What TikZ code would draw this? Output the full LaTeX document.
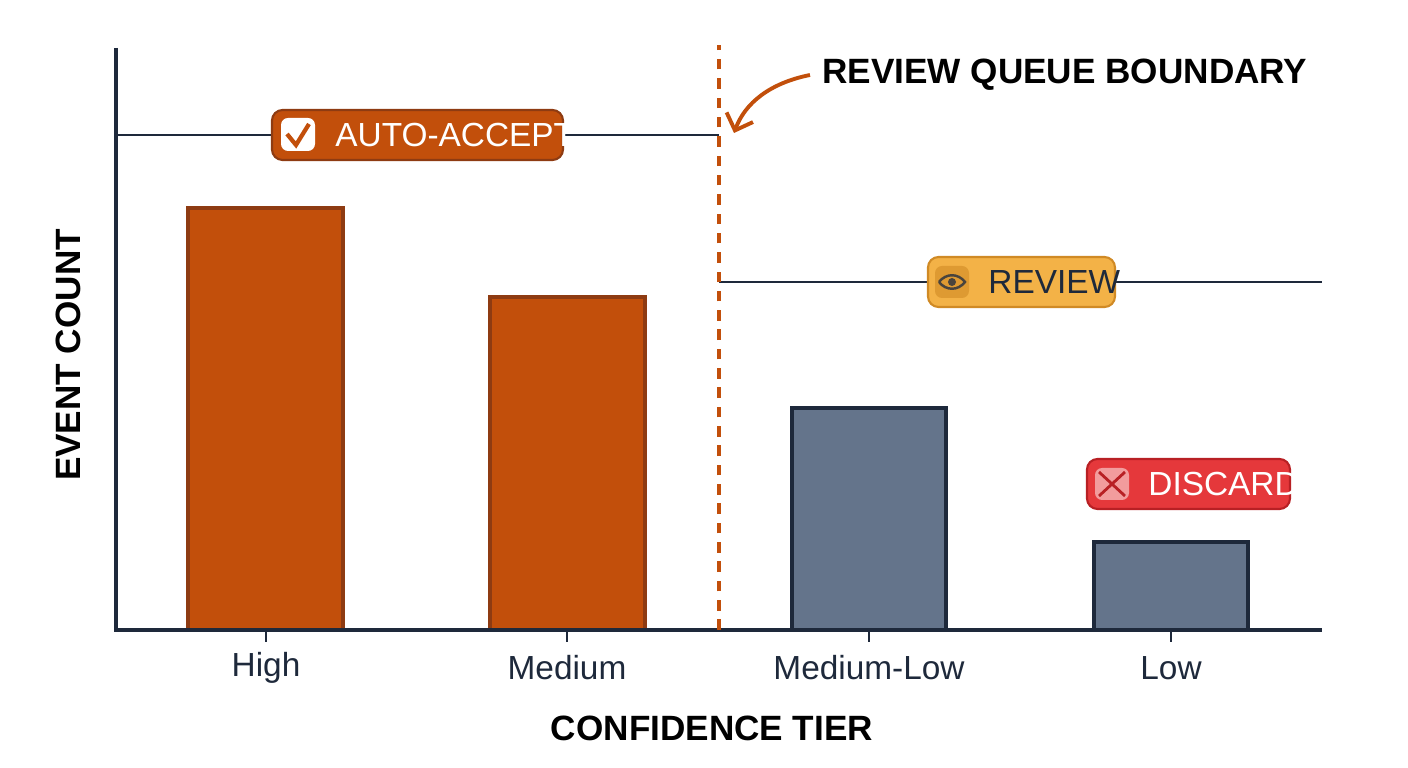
\documentclass[tikz,border=0pt]{standalone}
\usepackage{fontspec}
\setmainfont{Liberation Sans}
\usetikzlibrary{arrows.meta}
\definecolor{accent}{HTML}{C24F0B}
\definecolor{accentdark}{HTML}{8E3B12}
\definecolor{slate}{HTML}{64748B}
\definecolor{ink}{HTML}{1E293B}
\definecolor{amber}{HTML}{F3B247}
\definecolor{amberdark}{HTML}{D08A25}
\definecolor{alert}{HTML}{E5383B}
\definecolor{alertdark}{HTML}{B82024}
\tikzset{
  bar/.style={draw=#1, line width=0.9pt},
  tag/.style={rounded corners=3pt, line width=0.6pt, minimum height=0.5cm, inner sep=0pt, anchor=center},
  ticklabel/.style={font=\fontsize{9.5}{9.5}\selectfont, text=ink},
  tagtext/.style={font=\fontsize{9.5}{9.5}\selectfont, anchor=west},
  axistitle/.style={font=\bfseries\fontsize{10}{10}\selectfont, text=black}
}
\begin{document}
\begin{tikzpicture}
\useasboundingbox (0,0) rectangle (14.08,7.68);
% bars
\fill[accent] (1.88,1.38) rectangle (3.43,5.60);
\draw[bar=accentdark] (1.88,1.38) rectangle (3.43,5.60);
\fill[accent] (4.90,1.38) rectangle (6.45,4.71);
\draw[bar=accentdark] (4.90,1.38) rectangle (6.45,4.71);
\fill[slate] (7.92,1.38) rectangle (9.46,3.60);
\draw[bar=ink] (7.92,1.38) rectangle (9.46,3.60);
\fill[slate] (10.94,1.38) rectangle (12.48,2.26);
\draw[bar=ink] (10.94,1.38) rectangle (12.48,2.26);
% axes
\coordinate (o) at (1.16,1.38);
\draw[ink, line width=0.9pt] (1.16,7.20) -- (o) -- (13.22,1.38);
\foreach \x/\t [count=\i] in {2.66/High,5.67/Medium,8.69/Medium-Low,11.71/Low}{
  \draw[ink, line width=0.8pt] (\x,1.38) -- (\x,1.26);
  \node[ticklabel] (tick\i) at (\x,1.00) {\t};
}
\node[axistitle] (xtitle) at (7.12,0.40) {CONFIDENCE TIER};
\node[axistitle, rotate=90] (ytitle) at (0.68,4.13) {EVENT COUNT};
% thresholds
\draw[ink, line width=0.4pt] (1.16,6.33) -- (7.19,6.33);
\draw[ink, line width=0.4pt] (7.19,4.86) -- (13.22,4.86);
\draw[accent, line width=0.9pt, dash pattern=on 3pt off 2.5pt] (7.19,1.38) -- (7.19,7.23);
% tags
\node[tag, fill=accent, draw=accentdark, minimum width=2.91cm] (accept) at (4.175,6.33) {};
\fill[white, rounded corners=2pt] (2.81,6.17) rectangle (3.15,6.50);
\draw[accent, line width=1.2pt] (2.87,6.34) -- (2.96,6.23) -- (3.09,6.44);
\node[tagtext, text=white] (accepttxt) at (3.23,6.33) {AUTO-ACCEPT};
\node[tag, fill=amber, draw=amberdark, minimum width=1.87cm] (review) at (10.215,4.86) {};
\fill[amberdark!60!amber, rounded corners=2pt] (9.35,4.70) rectangle (9.69,5.02);
\draw[ink!80!amber, line width=0.7pt] (9.39,4.86) .. controls (9.46,4.95) and (9.58,4.95) .. (9.65,4.86) .. controls (9.58,4.77) and (9.46,4.77) .. (9.39,4.86);
\fill[ink!80!amber] (9.52,4.86) circle (0.04);
\node[tagtext, text=ink] (reviewtxt) at (9.76,4.86) {REVIEW};
\node[tag, fill=alert, draw=alertdark, minimum width=2.03cm] (discard) at (11.885,2.84) {};
\fill[alert!50!white, rounded corners=2pt] (10.95,2.68) rectangle (11.29,3.00);
\draw[alertdark, line width=0.8pt] (10.99,2.72) -- (11.25,2.96) (10.99,2.96) -- (11.25,2.72);
\node[tagtext, text=white] (discardtxt) at (11.36,2.84) {DISCARD};
% annotation
\node[font=\bfseries\fontsize{10}{10}\selectfont, anchor=west] (boundary) at (8.10,6.93) {REVIEW QUEUE BOUNDARY};
\coordinate (tip) at (7.34,6.35);
\draw[accent, line width=1.1pt, -{Straight Barb[length=4pt]}] (boundary.west) .. controls (7.70,6.85) and (7.45,6.65) .. (tip);
\end{tikzpicture}
\end{document}
